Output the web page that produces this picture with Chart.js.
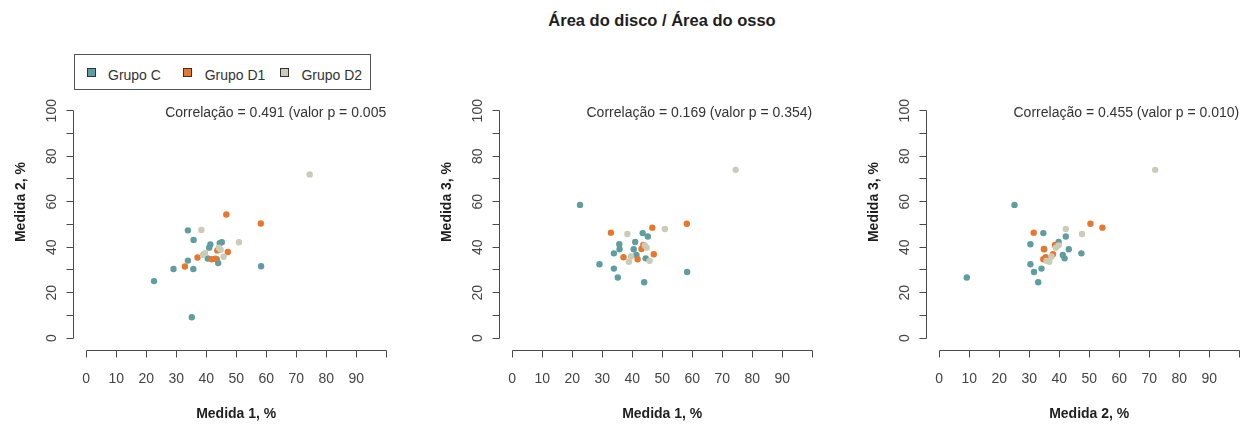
<!DOCTYPE html>
<html>
<head>
<meta charset="utf-8">
<script src="https://cdn.jsdelivr.net/npm/chart.js@4.4.0/dist/chart.umd.min.js"></script>
<style>
  body { margin: 0; background: #fff; width: 1253px; height: 425px; overflow: hidden; position: relative;
         font-family: "Liberation Sans", Arial, sans-serif; }
  canvas { position: absolute; top: 0; }
  #titulo { position: absolute; left: 462px; width: 400px; top: 11px; line-height: 19px; text-align: center;
            font-weight: bold; font-size: 16.5px; color: #1e1e1e; }
  #legenda { position: absolute; left: 74px; top: 54px; width: 297px; height: 36px; box-sizing: border-box;
             border: 1px solid #555; background: #fff; }
  #legenda i { position: absolute; width: 9px; height: 9px; box-sizing: border-box; border: 1px solid #333; top: 13px; }
  #legenda span { position: absolute; top: 12px; font-size: 14px; line-height: 16px; color: #333; white-space: nowrap; }
</style>
</head>
<body>
<div id="titulo">Área do disco / Área do osso</div>
<canvas id="painel0" width="426" height="425" style="left:0px"></canvas>
<canvas id="painel1" width="426" height="425" style="left:426px"></canvas>
<canvas id="painel2" width="426" height="425" style="left:853px"></canvas>
<div id="legenda"></div>
<script>
// grupos
const grupos = ['Grupo C', 'Grupo D1', 'Grupo D2'];
const coresGrupos = ['#5f9ea0', '#e8772e', '#cbcbb8'];

const grupoC_m1 = [22.6, 29.1, 33.9, 33.9, 35.2, 35.7, 35.8, 40.5, 41.0, 41.4, 43.5, 44.0, 44.5, 45.2, 58.3];
const grupoC_m2 = [25.1, 30.4, 47.4, 34.1, 9.2, 30.4, 43.2, 35.0, 39.8, 41.2, 34.7, 33.0, 41.8, 42.2, 31.6];
const grupoC_m3 = [58.6, 32.5, 37.3, 30.6, 26.7, 41.3, 39.1, 39.1, 42.3, 36.6, 46.2, 24.6, 35.1, 44.7, 29.1];

const grupoD1_m1 = [32.9, 37.1, 41.8, 43.1, 43.7, 46.7, 47.2, 58.2];
const grupoD1_m2 = [31.5, 35.5, 34.7, 34.9, 38.6, 54.4, 37.9, 50.4];
const grupoD1_m3 = [46.4, 35.6, 34.7, 39.2, 41.0, 48.6, 36.9, 50.3];

const grupoD2_m1 = [74.5, 38.4, 38.9, 39.6, 44.2, 44.8, 45.8, 50.9];
const grupoD2_m2 = [72.0, 47.6, 36.7, 37.4, 39.8, 38.9, 35.8, 42.2];
const grupoD2_m3 = [74.0, 45.8, 33.6, 35.9, 40.8, 39.8, 34.0, 48.0];

// eixos
const ticksEixo = [0, 10, 20, 30, 40, 50, 60, 70, 80, 90, 100];
const rotulosX = [0, 10, 20, 30, 40, 50, 60, 70, 80, 90];
const rotulosY = [0, 20, 40, 60, 80, 100];

// paineis
const titulosX = ['Medida 1, %', 'Medida 1, %', 'Medida 2, %'];
const titulosY = ['Medida 2, %', 'Medida 3, %', 'Medida 3, %'];
const textosCorrelacao = [
  'Correlação = 0.491 (valor p = 0.005',
  'Correlação = 0.169 (valor p = 0.354)',
  'Correlação = 0.455 (valor p = 0.010)'
];

const medidas = [
  [grupoC_m1, grupoC_m2, grupoC_m3],
  [grupoD1_m1, grupoD1_m2, grupoD1_m3],
  [grupoD2_m1, grupoD2_m2, grupoD2_m3]
];
const paresPainel = [[0, 1], [0, 2], [1, 2]];

// legenda (caixa estilo R)
const legenda = document.getElementById('legenda');
grupos.forEach(function (nome, g) {
  const quad = document.createElement('i');
  quad.style.left = (11.5 + 96.7 * g) + 'px';
  quad.style.background = coresGrupos[g];
  legenda.appendChild(quad);
  const txt = document.createElement('span');
  txt.style.left = (33 + 96.7 * g) + 'px';
  txt.textContent = nome;
  legenda.appendChild(txt);
});

const nitido = v => Math.round(v - 0.5) + 0.5;

// desenha os eixos no estilo do R (linha só de 0 a 100, separada da área)
const eixosR = {
  id: 'eixosR',
  afterDraw(chart, args, opts) {
    const ctx = chart.ctx, sx = chart.scales.x, sy = chart.scales.y, area = chart.chartArea;
    const p = opts.painel;
    ctx.save();
    ctx.strokeStyle = '#4a4a4a';
    ctx.lineWidth = 1;

    // eixo x
    const yEixo = nitido(area.bottom);
    ctx.beginPath();
    ctx.moveTo(nitido(sx.getPixelForValue(0)), yEixo);
    ctx.lineTo(nitido(sx.getPixelForValue(100)), yEixo);
    ticksEixo.forEach(function (v) {
      const px = nitido(sx.getPixelForValue(v));
      ctx.moveTo(px, yEixo);
      ctx.lineTo(px, yEixo + 7);
    });
    // eixo y
    const xEixo = nitido(area.left);
    ctx.moveTo(xEixo, nitido(sy.getPixelForValue(0)));
    ctx.lineTo(xEixo, nitido(sy.getPixelForValue(100)));
    ticksEixo.forEach(function (v) {
      const py = nitido(sy.getPixelForValue(v));
      ctx.moveTo(xEixo, py);
      ctx.lineTo(xEixo - 7, py);
    });
    ctx.stroke();

    // rótulos dos ticks
    ctx.fillStyle = '#444';
    ctx.font = '14px "Liberation Sans", Arial, sans-serif';
    ctx.textAlign = 'center';
    ctx.textBaseline = 'alphabetic';
    rotulosX.forEach(function (v) {
      ctx.fillText(String(v), sx.getPixelForValue(v), 383);
    });
    rotulosY.forEach(function (v) {
      ctx.save();
      ctx.translate(area.left - 17, sy.getPixelForValue(v));
      ctx.rotate(-Math.PI / 2);
      ctx.fillText(String(v), 0, 0);
      ctx.restore();
    });

    // títulos dos eixos
    ctx.fillStyle = '#1e1e1e';
    ctx.font = 'bold 14px "Liberation Sans", Arial, sans-serif';
    ctx.fillText(titulosX[p], sx.getPixelForValue(50), 418);
    ctx.save();
    ctx.translate(area.left - 48, 202);
    ctx.rotate(-Math.PI / 2);
    ctx.fillText(titulosY[p], 0, 0);
    ctx.restore();

    // correlação
    ctx.fillStyle = '#333';
    ctx.font = '14px "Liberation Sans", Arial, sans-serif';
    ctx.textAlign = 'right';
    ctx.fillText(textosCorrelacao[p], sx.getPixelForValue(100), 116.5);
    ctx.restore();
  }
};

paresPainel.forEach(function (par, p) {
  const datasets = grupos.map(function (nome, g) {
    const xs = medidas[g][par[0]], ys = medidas[g][par[1]];
    return {
      label: nome,
      data: xs.map((v, i) => ({ x: v, y: ys[i] })),
      backgroundColor: coresGrupos[g],
      borderWidth: 0,
      pointRadius: 3.2,
      pointHoverRadius: 3.2,
      order: 3 - g
    };
  });

  new Chart(document.getElementById('painel' + p), {
    type: 'scatter',
    data: { datasets: datasets },
    options: {
      responsive: false,
      animation: false,
      devicePixelRatio: 1,
      events: [],
      layout: { padding: { left: 73, right: 426 - 398.2, top: 101.6, bottom: 425 - 350.7 } },
      plugins: {
        legend: { display: false },
        tooltip: { enabled: false },
        eixosR: { painel: p }
      },
      scales: {
        x: { type: 'linear', min: -4.4, max: 104, display: false },
        y: { type: 'linear', min: -5.5, max: 104, display: false }
      }
    },
    plugins: [eixosR]
  });
});
</script>
</body>
</html>
